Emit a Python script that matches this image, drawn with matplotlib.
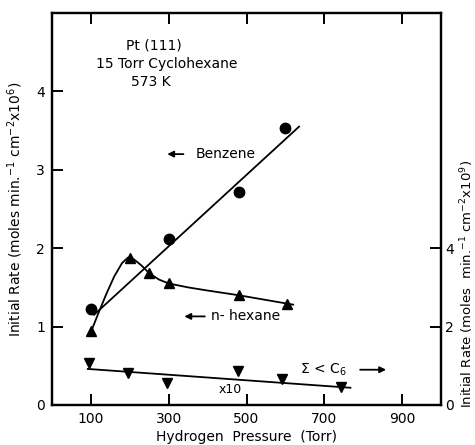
import matplotlib
matplotlib.use("Agg")
import matplotlib.pyplot as plt
import numpy as np

# ---- data ----
benzene_x = [100, 300, 480, 600]
benzene_y = [1.22, 2.12, 2.72, 3.53]
benzene_fit_x = [108, 635]
benzene_fit_y = [1.15, 3.55]

hexane_x = [100, 200, 250, 300, 480, 605]
hexane_y = [0.94, 1.87, 1.68, 1.55, 1.40, 1.29]
hexane_curve_x = [100, 120, 140, 160, 180, 195, 210, 230, 250, 275, 300, 350, 400, 480, 550, 620]
hexane_curve_y = [0.93, 1.18, 1.42, 1.64, 1.81, 1.88, 1.86, 1.78, 1.68, 1.60, 1.55, 1.50, 1.46, 1.40, 1.34, 1.28]

light_x = [95, 195, 295, 478, 592, 742]
light_y = [1.08, 0.82, 0.56, 0.88, 0.66, 0.46]   # right axis units
light_fit_x = [92, 767]
light_fit_y = [0.92, 0.44]

x_ticks = [100, 300, 500, 700, 900]
y_left_ticks = [0, 1, 2, 3, 4]
y_right_ticks = [0, 2, 4]

plt.rcParams['font.family'] = ['DejaVu Sans']
plt.rcParams['mathtext.default'] = 'regular'

fig = plt.figure(figsize=(4.75, 4.45), dpi=100)
ax = fig.add_axes([52/475, 40/445, (441-52)/475, (405-13)/445])
ax.set_xlim(0, 1000)
ax.set_ylim(0, 5)

lw = 1.3
ax.plot(benzene_fit_x, benzene_fit_y, color='black', lw=lw)
ax.plot(benzene_x, benzene_y, 'o', color='black', ms=7.5, ls='none')
ax.plot(hexane_curve_x, hexane_curve_y, color='black', lw=lw)
ax.plot(hexane_x, hexane_y, '^', color='black', ms=7.5, ls='none')

ax2 = ax.twinx()
ax2.set_ylim(0, 10)
ax2.plot(light_fit_x, light_fit_y, color='black', lw=lw)
ax2.plot(light_x, light_y, 'v', color='black', ms=7.5, ls='none')

for s in ax.spines.values():
    s.set_linewidth(1.6)
for s in ax2.spines.values():
    s.set_linewidth(1.6)

ax.set_xticks(x_ticks)
ax.set_xticklabels([str(v) for v in x_ticks])
ax.set_yticks(y_left_ticks)
ax.set_yticklabels([str(v) for v in y_left_ticks])
ax.tick_params(axis='both', direction='in', length=8, width=1.4, labelsize=10,
               top=True, pad=5)
ax.tick_params(axis='y', right=False)
ax2.set_yticks(y_right_ticks)
ax2.set_yticklabels([str(v) for v in y_right_ticks])
ax2.tick_params(axis='y', direction='in', length=8, width=1.4, labelsize=10, pad=3)

ax.set_xlabel('Hydrogen  Pressure  (Torr)', fontsize=10, labelpad=3)
ax.set_ylabel(r'Initial Rate (moles min.$^{-1}$ cm$^{-2}$x10$^{6}$)', fontsize=10, labelpad=8)
fig.text(467/475, 1 - 284/445, r'Initial Rate (moles  min.$^{-1}$ cm$^{-2}$x10$^{9}$)',
         rotation=90, fontsize=9.5, ha='center', va='center')

ax.text(262, 4.58, 'Pt (111)', ha='center', va='center', fontsize=10)
ax.text(296, 4.35, '15 Torr Cyclohexane', ha='center', va='center', fontsize=10)
ax.text(255, 4.12, '573 K', ha='center', va='center', fontsize=10)

arrow = dict(arrowstyle='-|>', color='black', lw=1.3, mutation_scale=9)
ax.annotate('', xy=(289, 3.2), xytext=(345, 3.2), arrowprops=arrow)
ax.text(370, 3.2, 'Benzene', ha='left', va='center', fontsize=10)
ax.annotate('', xy=(333, 1.13), xytext=(400, 1.13), arrowprops=arrow)
ax.text(410, 1.13, 'n- hexane', ha='left', va='center', fontsize=10)
ax.text(638, 0.45, r'$\Sigma$ < C$_6$', ha='left', va='center', fontsize=10)
ax.annotate('', xy=(866, 0.45), xytext=(785, 0.45), arrowprops=arrow)
ax.text(457, 0.2, 'x10', ha='center', va='center', fontsize=9)

fig.savefig('out.png', dpi=100)
